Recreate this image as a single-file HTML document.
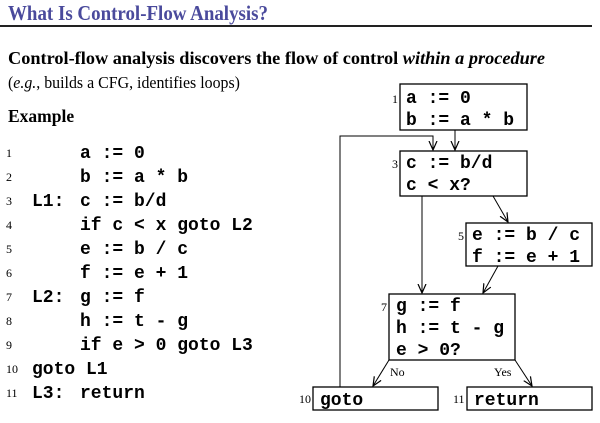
<!DOCTYPE html>
<html><head><style>
body{margin:0;background:#fff;}
svg{display:block;}
.m{font-family:"Liberation Mono",monospace;font-weight:bold;font-size:18px;fill:#000;}
.n{font-family:"Liberation Serif",serif;font-size:12px;fill:#000;}
.s{font-family:"Liberation Serif",serif;fill:#000;}
</style></head><body>
<svg width="600" height="423" viewBox="0 0 600 423" xmlns="http://www.w3.org/2000/svg">
<defs><marker id="a" markerWidth="10" markerHeight="10" refX="9" refY="5" orient="auto" markerUnits="userSpaceOnUse"><path d="M0,1 L9,5 L0,9" fill="none" stroke="#000" stroke-width="1.2"/></marker></defs>
<text x="8" y="20" class="s" font-size="21" font-weight="bold" style="fill:#4a4a9c" textLength="260" lengthAdjust="spacingAndGlyphs">What Is Control-Flow Analysis?</text>
<line x1="0" y1="26" x2="592" y2="26" stroke="#222" stroke-width="2"/>
<text x="8" y="64" class="s" font-size="18" font-weight="bold" textLength="537" lengthAdjust="spacingAndGlyphs">Control-flow analysis discovers the flow of control <tspan font-style="italic">within a procedure</tspan></text>
<text x="8" y="88" class="s" font-size="17" textLength="232" lengthAdjust="spacingAndGlyphs">(<tspan font-style="italic">e.g.</tspan>, builds a CFG, identifies loops)</text>
<text x="8" y="122" class="s" font-size="17.5" font-weight="bold">Example</text>
<g class="n">
<text x="6" y="157">1</text><text x="6" y="181">2</text><text x="6" y="205">3</text><text x="6" y="229">4</text><text x="6" y="253">5</text><text x="6" y="277">6</text><text x="6" y="301">7</text><text x="6" y="325">8</text><text x="6" y="349">9</text><text x="6" y="373">10</text><text x="6" y="397">11</text>
</g>
<g class="m">
<text x="80" y="158">a := 0</text>
<text x="80" y="182">b := a * b</text>
<text x="32" y="206">L1:</text><text x="80" y="206">c := b/d</text>
<text x="80" y="230">if c &lt; x goto L2</text>
<text x="80" y="254">e := b / c</text>
<text x="80" y="278">f := e + 1</text>
<text x="32" y="302">L2:</text><text x="80" y="302">g := f</text>
<text x="80" y="326">h := t - g</text>
<text x="80" y="350">if e &gt; 0 goto L3</text>
<text x="32" y="374">goto L1</text>
<text x="32" y="398">L3:</text><text x="80" y="398">return</text>
</g>
<g fill="none" stroke="#000" stroke-width="1.3">
<rect x="400" y="84" width="127" height="46"/>
<rect x="400" y="151" width="127" height="45"/>
<rect x="466" y="223" width="126" height="43"/>
<rect x="389" y="294" width="126" height="66"/>
<rect x="313" y="387" width="125" height="23"/>
<rect x="467" y="387" width="125" height="23"/>
</g>
<g stroke="#000" stroke-width="1" fill="none" marker-end="url(#a)">
<line x1="455" y1="130" x2="455" y2="150"/>
<polyline points="340,387 340,136 433,136 433,150"/>
<line x1="422" y1="196" x2="422" y2="293"/>
<line x1="493" y1="196" x2="508" y2="222"/>
<line x1="498" y1="266" x2="483" y2="293"/>
<line x1="389" y1="360" x2="373" y2="386"/>
<line x1="515" y1="360" x2="532" y2="386"/>
</g>
<g class="n">
<text x="392" y="103">1</text><text x="392" y="168">3</text><text x="458" y="240">5</text><text x="381" y="311">7</text><text x="299" y="403">10</text><text x="453" y="403">11</text>
<text x="390" y="376" font-size="12">No</text><text x="494" y="376">Yes</text>
</g>
<g class="m">
<text x="406" y="103">a := 0</text><text x="406" y="125">b := a * b</text>
<text x="406" y="168">c := b/d</text><text x="406" y="190">c &lt; x?</text>
<text x="472" y="240">e := b / c</text><text x="472" y="262">f := e + 1</text>
<text x="396" y="311">g := f</text><text x="396" y="333">h := t - g</text><text x="396" y="355">e &gt; 0?</text>
<text x="320" y="405">goto</text><text x="474" y="405">return</text>
</g>
</svg>
</body></html>
